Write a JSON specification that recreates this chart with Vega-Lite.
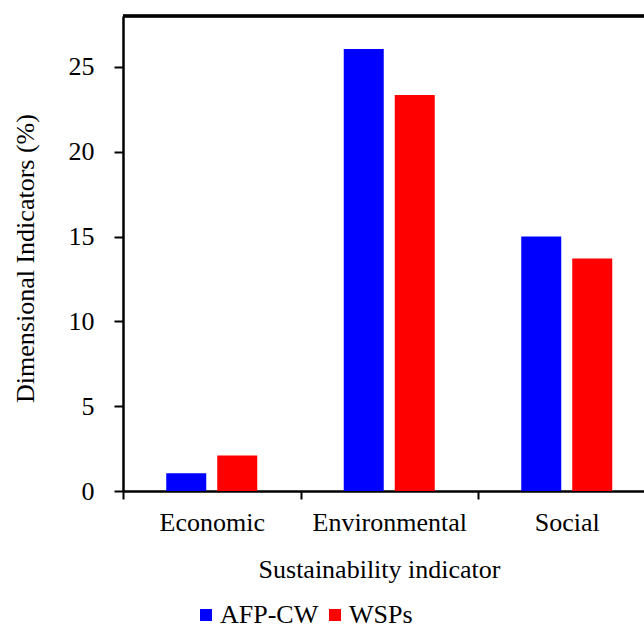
{
  "$schema": "https://vega.github.io/schema/vega-lite/v6.json",
  "autosize": {"type": "none"},
  "width": 521,
  "height": 475,
  "padding": {"left": 123, "top": 16, "right": 0, "bottom": 139},
  "data": {"values": [
    {"category": "Economic", "series": "AFP-CW", "value": 1.05},
    {"category": "Economic", "series": "WSPs", "value": 2.1},
    {"category": "Environmental", "series": "AFP-CW", "value": 26.05},
    {"category": "Environmental", "series": "WSPs", "value": 23.35},
    {"category": "Social", "series": "AFP-CW", "value": 15.0},
    {"category": "Social", "series": "WSPs", "value": 13.7}
  ]},
  "config": {
    "view": {"stroke": null},
    "font": "Liberation Serif",
    "axis": {
      "grid": false,
      "domainColor": "black",
      "domainWidth": 2.5,
      "tickColor": "black",
      "tickWidth": 2,
      "labelFont": "Liberation Serif",
      "labelColor": "black",
      "titleFont": "Liberation Serif",
      "titleColor": "black",
      "titleFontWeight": "normal"
    }
  },
  "layer": [
    {
      "mark": {"type": "bar"},
      "encoding": {
        "x": {
          "field": "category", "type": "nominal",
          "sort": ["Economic", "Environmental", "Social"],
          "scale": {"range": [0, 532.5], "paddingInner": 0, "paddingOuter": 0},
          "axis": {
            "title": "Sustainability indicator",
            "labelAngle": 0,
            "tickBand": "extent",
            "tickSize": 8,
            "labelFontSize": 26,
            "labelBaseline": "alphabetic",
            "labelPadding": 31,
            "titleFontSize": 26,
            "titleBaseline": "alphabetic",
            "titleX": 256,
            "titleY": 86
          }
        },
        "xOffset": {
          "field": "series", "type": "nominal",
          "scale": {"paddingInner": 0.2157, "paddingOuter": 0.848}
        },
        "y": {
          "field": "value", "type": "quantitative",
          "scale": {"domain": [0, 28], "nice": false},
          "axis": {
            "title": "Dimensional Indicators (%)",
            "values": [0, 5, 10, 15, 20, 25],
            "tickSize": 9,
            "labelFontSize": 26,
            "labelPadding": 20,
            "titleFontSize": 26,
            "titleAngle": -90,
            "titleBaseline": "alphabetic",
            "titleAlign": "center",
            "titleX": -90,
            "titleY": 242
          }
        },
        "color": {
          "field": "series", "type": "nominal",
          "scale": {"domain": ["AFP-CW", "WSPs"], "range": ["#0000FF", "#FF0000"]},
          "legend": {
            "orient": "none",
            "legendX": 70,
            "legendY": 586,
            "direction": "horizontal",
            "title": null,
            "symbolType": "square",
            "symbolSize": 144,
            "symbolStrokeWidth": 0,
            "labelFont": "Liberation Serif",
            "labelFontSize": 26,
            "labelColor": "black",
            "labelOffset": 1,
            "columnPadding": 3,
            "padding": 0
          }
        }
      }
    },
    {
      "mark": {"type": "rule", "color": "black", "strokeWidth": 2.5},
      "encoding": {"y": {"datum": 28}}
    }
  ]
}
